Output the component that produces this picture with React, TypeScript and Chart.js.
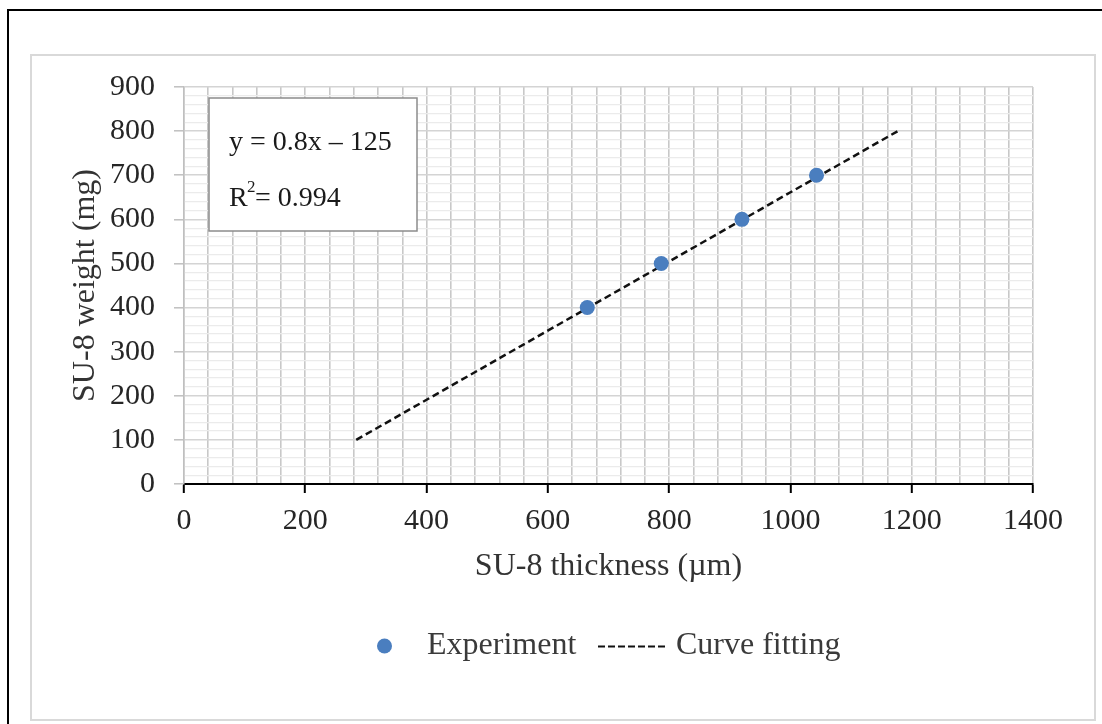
import React, { useEffect, useRef } from "react";
import { Chart, registerables } from "chart.js";

Chart.register(...registerables);

// ---- data ----
const expThickness = [665, 787, 920, 1043];
const expWeight = [400, 500, 600, 700];
const fitThickness = [284, 1177];
const fitWeight = [100, 800];
const seriesLabels = ["Experiment", "Curve fitting"];
const equationLine = "y = 0.8x \u2013 125";
const r2Value = "0.994";
const xTitle = "SU-8 thickness (\u00b5m)";
const yTitle = "SU-8 weight (mg)";
const xMin = 0, xMax = 1400, xGridStep = 40, xLabelStep = 200;
const yMin = 0, yMax = 900, yGridStep = 20, yLabelStep = 100;

const FONT = '"Liberation Serif", "Times New Roman", serif';
const POINT_COLOR = "#4a7ebf";

const overlayPlugin = {
  id: "overlay",
  afterDraw(chart: any) {
    const ctx = chart.ctx as CanvasRenderingContext2D;
    ctx.save();
    // equation box
    ctx.fillStyle = "#ffffff";
    ctx.fillRect(209, 98, 208, 133);
    ctx.strokeStyle = "#8c8c8c";
    ctx.lineWidth = 1.5;
    ctx.strokeRect(209, 98, 208, 133);
    ctx.fillStyle = "#1a1a1a";
    ctx.textBaseline = "alphabetic";
    ctx.textAlign = "left";
    ctx.font = `28px ${FONT}`;
    ctx.fillText(equationLine, 229, 150);
    ctx.fillText("R", 229, 206);
    ctx.font = `17px ${FONT}`;
    ctx.fillText("2", 247, 192);
    ctx.font = `28px ${FONT}`;
    ctx.fillText("= " + r2Value, 255, 206);

    // legend
    const ly = 646;
    ctx.fillStyle = POINT_COLOR;
    ctx.beginPath();
    ctx.arc(384.5, ly, 7.5, 0, Math.PI * 2);
    ctx.fill();
    ctx.font = `32px ${FONT}`;
    ctx.textBaseline = "middle";
    ctx.fillStyle = "#3a3a3a";
    ctx.fillText(seriesLabels[0], 427, ly);
    ctx.strokeStyle = "#111";
    ctx.lineWidth = 2;
    ctx.setLineDash([7, 3]);
    ctx.beginPath();
    ctx.moveTo(598, ly + 0.5);
    ctx.lineTo(668, ly + 0.5);
    ctx.stroke();
    ctx.setLineDash([]);
    ctx.fillText(seriesLabels[1], 676, ly);
    ctx.restore();
  },
};

export default function App() {
  const ref = useRef<HTMLCanvasElement | null>(null);

  useEffect(() => {
    if (!ref.current) return;
    const chart = new Chart(ref.current, {
      type: "scatter",
      data: {
        datasets: [
          {
            label: seriesLabels[0],
            data: expThickness.map((x, i) => ({ x, y: expWeight[i] })),
            backgroundColor: POINT_COLOR,
            borderColor: POINT_COLOR,
            pointRadius: 7.5,
            pointHoverRadius: 7.5,
            borderWidth: 0,
            order: 1,
          },
          {
            label: seriesLabels[1],
            data: fitThickness.map((x, i) => ({ x, y: fitWeight[i] })),
            showLine: true,
            borderColor: "#111111",
            borderWidth: 2.5,
            borderDash: [7, 4],
            pointRadius: 0,
            order: 2,
          },
        ],
      },
      options: {
        animation: false,
        responsive: false,
        devicePixelRatio: 1,
        layout: { padding: { left: 64, top: 87, right: 69, bottom: 138 } },
        plugins: {
          legend: { display: false },
          tooltip: { enabled: false },
        },
        scales: {
          x: {
            type: "linear",
            min: xMin,
            max: xMax,
            afterFit: (s: any) => {
              s.height = 102;
            },
            ticks: {
              stepSize: xGridStep,
              autoSkip: false,
              maxRotation: 0,
              padding: 10,
              color: "#262626",
              font: { family: FONT, size: 30 },
              callback: (v: any) => (Math.round(v) % xLabelStep === 0 ? String(Math.round(v)) : ""),
            },
            grid: {
              color: "#c8c8c8",
              lineWidth: 1.6,
              tickLength: 9,
              tickWidth: 2,
              tickColor: (c: any) =>
                c.tick && Math.round(c.tick.value) % xLabelStep === 0 ? "#000" : "rgba(0,0,0,0)",
            },
            border: { color: "#000", width: 2 },
            title: {
              display: true,
              text: xTitle,
              color: "#333",
              font: { family: FONT, size: 32 },
              padding: 0,
            },
          },
          y: {
            type: "linear",
            min: yMin,
            max: yMax,
            afterFit: (s: any) => {
              s.width = 120;
            },
            ticks: {
              stepSize: yGridStep,
              autoSkip: false,
              padding: 19,
              color: "#262626",
              font: { family: FONT, size: 30 },
              callback: (v: any) => (Math.round(v) % yLabelStep === 0 ? String(Math.round(v)) : ""),
            },
            grid: {
              color: (c: any) =>
                c.tick && Math.round(c.tick.value) % yLabelStep === 0 ? "#d4d4d4" : "#ebebeb",
              lineWidth: (c: any) =>
                c.tick && Math.round(c.tick.value) % yLabelStep === 0 ? 1.6 : 1.3,
              tickLength: 10,
              tickWidth: 1.5,
              tickColor: (c: any) =>
                c.tick && Math.round(c.tick.value) % yLabelStep === 0 ? "#bfbfbf" : "rgba(0,0,0,0)",
            },
            border: { color: "#bfbfbf", width: 1.5 },
            title: {
              display: true,
              text: yTitle,
              color: "#333",
              font: { family: FONT, size: 32 },
              padding: { top: 2, bottom: 0 },
            },
          },
        },
      },
      plugins: [overlayPlugin],
    } as any);
    return () => chart.destroy();
  }, []);

  return (
    <div
      style={{
        position: "absolute",
        left: 0,
        top: 0,
        width: 1102,
        height: 724,
        overflow: "hidden",
        background: "#fff",
      }}
    >
      <div
        style={{
          position: "absolute",
          left: 7,
          top: 9,
          width: 1200,
          height: 900,
          border: "2px solid #000",
        }}
      />
      <div
        style={{
          position: "absolute",
          left: 30,
          top: 54,
          width: 1066,
          height: 667,
          boxSizing: "border-box",
          border: "2px solid #d9d9d9",
        }}
      />
      <canvas
        ref={ref}
        width={1102}
        height={724}
        style={{ position: "absolute", left: 0, top: 0 }}
      />
    </div>
  );
}
